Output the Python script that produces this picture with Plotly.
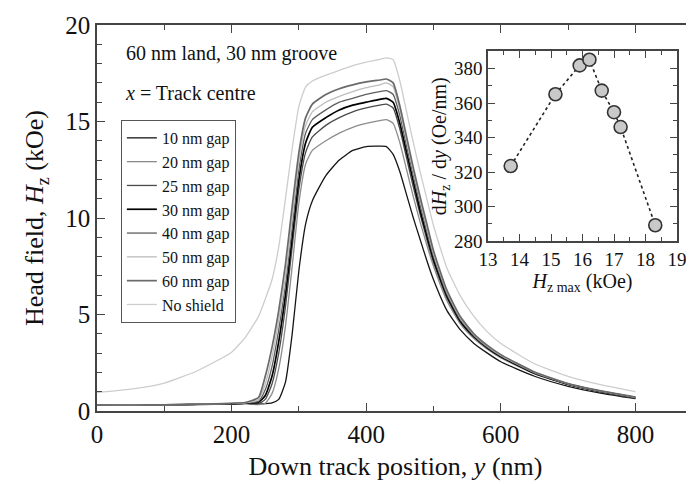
import plotly.graph_objects as go

# ---------------- data ----------------
y_nm = [0, 50, 100, 150, 200, 220, 240, 250, 260, 270, 280, 290, 300, 310, 320, 340, 360, 380,
        400, 420, 430, 440, 450, 460, 470, 480, 490, 500, 520, 540, 560, 580, 600, 650, 700, 750, 800]

hz_10 = [0.30, 0.31, 0.32, 0.34, 0.37, 0.39, 0.36, 0.38, 0.42, 0.60, 1.50, 4.00, 7.30, 9.70, 10.90, 12.20, 13.00, 13.50,
         13.70, 13.72, 13.70, 13.30, 12.40, 11.20, 10.00, 8.90, 7.80, 6.80, 5.20, 4.20, 3.50, 3.00, 2.55, 1.80, 1.28, 0.92, 0.64]
hz_20 = [0.30, 0.31, 0.32, 0.34, 0.37, 0.39, 0.33, 0.40, 0.90, 2.20, 4.40, 7.50, 10.80, 12.80, 13.50, 14.00, 14.40, 14.70,
         14.90, 15.05, 15.10, 14.90, 13.90, 12.50, 11.10, 9.80, 8.60, 7.50, 5.70, 4.50, 3.75, 3.20, 2.75, 1.92, 1.36, 0.98, 0.68]
hz_25 = [0.30, 0.31, 0.32, 0.34, 0.37, 0.39, 0.38, 0.60, 1.40, 3.00, 5.40, 8.50, 11.50, 13.40, 14.20, 14.80, 15.20, 15.50,
         15.70, 15.85, 15.90, 15.70, 14.60, 13.10, 11.60, 10.20, 8.90, 7.70, 5.85, 4.60, 3.82, 3.25, 2.80, 1.95, 1.38, 0.99, 0.69]
hz_30 = [0.30, 0.31, 0.32, 0.34, 0.37, 0.40, 0.45, 0.80, 1.80, 3.60, 6.00, 9.00, 12.00, 13.90, 14.70, 15.20, 15.60, 15.85,
         16.00, 16.15, 16.20, 16.00, 14.90, 13.40, 11.90, 10.40, 9.10, 7.85, 5.95, 4.65, 3.86, 3.28, 2.82, 1.96, 1.39, 1.00, 0.69]
hz_40 = [0.30, 0.31, 0.32, 0.34, 0.38, 0.41, 0.50, 1.10, 2.30, 4.20, 6.50, 9.50, 12.50, 14.40, 15.10, 15.60, 16.00, 16.20,
         16.40, 16.55, 16.60, 16.40, 15.30, 13.70, 12.20, 10.70, 9.30, 8.00, 6.05, 4.72, 3.90, 3.31, 2.85, 1.98, 1.40, 1.01, 0.70]
hz_50 = [0.30, 0.31, 0.32, 0.35, 0.39, 0.42, 0.60, 1.40, 2.80, 4.70, 7.00, 10.00, 13.00, 14.80, 15.50, 16.00, 16.30, 16.55,
         16.75, 16.90, 17.00, 16.80, 15.60, 14.00, 12.40, 10.90, 9.50, 8.15, 6.15, 4.80, 3.95, 3.35, 2.88, 2.00, 1.41, 1.02, 0.71]
hz_60 = [0.30, 0.31, 0.32, 0.35, 0.40, 0.44, 0.70, 1.80, 3.30, 5.20, 7.60, 10.60, 13.40, 15.20, 15.90, 16.40, 16.70, 16.90,
         17.05, 17.15, 17.20, 17.00, 15.80, 14.20, 12.60, 11.10, 9.70, 8.30, 6.25, 4.88, 4.00, 3.40, 2.92, 2.02, 1.42, 1.03, 0.72]
hz_ns = [0.95, 1.13, 1.45, 2.10, 3.05, 3.80, 4.90, 5.80, 6.80, 8.50, 11.00, 13.60, 15.80, 16.80, 17.10, 17.40, 17.65, 17.90,
         18.08, 18.22, 18.30, 18.20, 17.10, 15.50, 13.90, 12.40, 11.00, 9.60, 7.40, 5.95, 4.90, 4.10, 3.50, 2.45, 1.80, 1.35, 1.00]

series_names = ["10 nm gap", "20 nm gap", "25 nm gap", "30 nm gap", "40 nm gap", "50 nm gap", "60 nm gap", "No shield"]
series_values = [hz_10, hz_20, hz_25, hz_30, hz_40, hz_50, hz_60, hz_ns]
series_colors = ["#151515", "#8c8c8c", "#4a4a4a", "#000000", "#5e5e5e", "#bdbdbd", "#6a6a6a", "#cdcdcd"]
series_widths = [1.3, 1.3, 1.3, 1.7, 1.3, 1.3, 1.7, 1.3]

# inset data
hz_max = [13.72, 15.14, 15.91, 16.22, 16.61, 17.00, 17.21, 18.31]
dhz_dy = [323.5, 365.1, 381.8, 385.1, 367.2, 354.7, 346.1, 289.2]

FONT = "Liberation Serif"
AX = "#444444"

fig = go.Figure()

for name, vals, col, w in zip(series_names, series_values, series_colors, series_widths):
    fig.add_trace(go.Scatter(x=y_nm, y=vals, mode="lines", name=name,
                             line=dict(color=col, width=w, shape="spline", smoothing=0.5),
                             xaxis="x", yaxis="y"))

fig.add_trace(go.Scatter(x=hz_max, y=dhz_dy, mode="lines+markers", showlegend=False,
                         line=dict(color="#222222", width=1.6, dash="dot"),
                         marker=dict(size=13, color="#c9c9c9", line=dict(color="#333333", width=1.6)),
                         xaxis="x2", yaxis="y2"))

axis_common = dict(showgrid=False, zeroline=False, showline=True, linecolor=AX, linewidth=1.5,
                   ticks="inside", tickcolor=AX, tickwidth=1.2, mirror="ticks", automargin=False)

# the page body adds an 8 px offset, so the figure is 8 px smaller in each direction
fig.update_layout(
    width=686, height=476,
    margin=dict(l=89, r=0, t=17, b=73),
    paper_bgcolor="white", plot_bgcolor="white",
    font=dict(family=FONT, color="#111111"),
    xaxis=dict(**axis_common, range=[0, 887], dtick=200, tick0=0, ticklen=8,
               minor=dict(dtick=100, ticklen=5, ticks="inside", tickcolor=AX),
               tickfont=dict(size=25, family=FONT),
               title=dict(text="Down track position, <i>y</i> (nm)", font=dict(size=26, family=FONT), standoff=10)),
    yaxis=dict(**axis_common, range=[0, 20], dtick=5, tick0=0, ticklen=8,
               minor=dict(dtick=1, ticklen=5, ticks="inside", tickcolor=AX),
               tickfont=dict(size=25, family=FONT),
               title=dict(text="Head field, <i>H</i><sub>z</sub> (kOe)", font=dict(size=26, family=FONT), standoff=14)),
    xaxis2=dict(**axis_common, domain=[0.655, 0.9715], anchor="y2", range=[13, 19], dtick=1, ticklen=7,
                minor=dict(dtick=0.5, ticklen=4, ticks="inside", tickcolor=AX),
                tickfont=dict(size=19, family=FONT),
                title=dict(text="<i>H</i><sub>z max</sub> (kOe)", font=dict(size=20, family=FONT), standoff=0)),
    yaxis2=dict(**axis_common, domain=[0.440, 0.932], anchor="x2", range=[280, 390], dtick=20, tick0=280, ticklen=7,
                minor=dict(dtick=10, ticklen=4, ticks="inside", tickcolor=AX),
                tickfont=dict(size=19, family=FONT),
                title=dict(text="d<i>H</i><sub>z</sub> / d<i>y</i> (Oe/nm)", font=dict(size=20, family=FONT), standoff=2)),
    legend=dict(x=0.040, y=0.754, xanchor="left", yanchor="top",
                bgcolor="white", bordercolor="#555555", borderwidth=1,
                font=dict(size=16, family=FONT), tracegroupgap=0, itemwidth=30),
    showlegend=True,
    annotations=[
        dict(text="60 nm land, 30 nm groove", xref="paper", yref="paper",
             x=0.045, y=(411 - 53) / 386, xanchor="left", yanchor="middle", showarrow=False,
             font=dict(size=20, family=FONT)),
        dict(text="<i>x</i> = Track centre", xref="paper", yref="paper",
             x=0.043, y=(411 - 93) / 386, xanchor="left", yanchor="middle", showarrow=False,
             font=dict(size=20, family=FONT)),
    ],
)

fig.write_html("out.html")
